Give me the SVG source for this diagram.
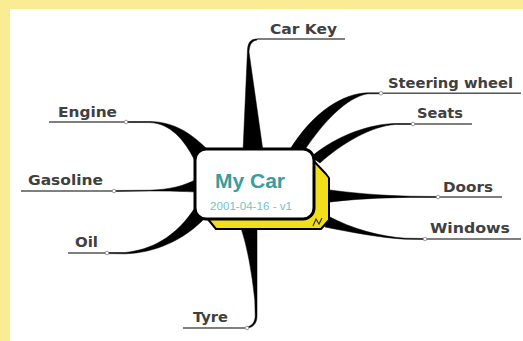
<svg xmlns="http://www.w3.org/2000/svg" width="523" height="341" viewBox="0 0 523 341">
<style>
.lbl{font-family:"DejaVu Sans","Liberation Sans",sans-serif;font-weight:bold;font-size:14px;fill:#404040}
.ul{stroke:#555;stroke-width:1.5;fill:none}
.br{fill:#000;stroke:#000;stroke-width:0.5;stroke-linejoin:round}
.dot{fill:#fff;stroke:#888;stroke-width:0.8}
</style>
<rect x="0" y="0" width="523" height="341" fill="#fff"/>
<rect x="0" y="0" width="523" height="9" fill="#f9ec92"/>
<rect x="0" y="0" width="10" height="341" fill="#f9ec92"/>

<g id="connectors">
  <path class="br" d="M257,39 C251,39 248,42 247.5,50 L243,151 L263,151 L249,52 C249.5,44 252,41 257,40 Z"/>
  <path class="br" d="M381,92.8 L368,92.8 C345,93 314,110 289,151 L304,151 C322,124 346,97 368,93.8 L381,93.8 Z"/>
  <path class="br" d="M413,123.5 L395,123.5 C372,124 338,134 311,157 L320,163 C342,143 372,126 395,124.5 L413,124.5 Z"/>
  <path class="br" d="M438,196.5 L410,196.2 C380,195.5 352,193 326,189.5 L326,202.5 C352,199 380,197.8 410,197.4 L438,197.5 Z"/>
  <path class="br" d="M425,238.5 L405,238.2 C380,236.5 352,229 328,216 L325,227 C350,232 380,237.8 405,239.2 L425,239.5 Z"/>
  <path class="br" d="M126,121.5 L150,121.5 C175,122 192,134 209,151 L195,161 C184,139 170,123.5 150,122.6 L126,122.5 Z"/>
  <path class="br" d="M114,190.5 L150,190.2 C170,189.5 184,186 197,179 L197,192 C184,191.5 170,191 150,191 L114,191.5 Z"/>
  <path class="br" d="M107,252.5 L125,252.5 C150,250 176,238 196,206 L205,218 C184,240 155,253 125,253.8 L107,253.6 Z"/>
  <path class="br" d="M247,328 C252,328 257,324 257,316 L257,228 L241,228 Q250,255 254.8,300 L255.2,316 C255,322 252,326 247,327 Z"/>
</g>

<g id="my-car">
  <path d="M309,156 L326,174 L329,178 L329,220 L321,229 L216,229 L207,218 Z" fill="#f2df1c" stroke="#000" stroke-width="2" stroke-linejoin="round"/>
  <path d="M313,226 L316,219 L319,224 L322,218" fill="none" stroke="#333" stroke-width="1.2"/>
  <rect x="195" y="149" width="119" height="70" rx="11" fill="#fff" stroke="#000" stroke-width="3"/>
  <text x="250" y="188" text-anchor="middle" font-family="Liberation Sans, Arial, sans-serif" font-weight="bold" font-size="20" fill="#3a9d9d" textLength="70" lengthAdjust="spacingAndGlyphs">My Car</text>
  <text x="251" y="210" text-anchor="middle" font-family="Liberation Sans, Arial, sans-serif" font-size="10.5" fill="#74c4c4" textLength="82" lengthAdjust="spacingAndGlyphs">2001-04-16 - v1</text>
</g>

<g id="car-key">
  <line class="ul" x1="257" y1="39" x2="345" y2="39"/>
  <text class="lbl" x="270" y="34" textLength="67" lengthAdjust="spacingAndGlyphs">Car Key</text>
</g>
<g id="steering-wheel">
  <line class="ul" x1="381" y1="93.3" x2="521" y2="93.3"/>
  <circle class="dot" cx="381" cy="93.3" r="1.8"/>
  <text class="lbl" x="388" y="88" textLength="125" lengthAdjust="spacingAndGlyphs">Steering wheel</text>
</g>
<g id="seats">
  <line class="ul" x1="413" y1="124" x2="472" y2="124"/>
  <circle class="dot" cx="413" cy="124" r="1.8"/>
  <text class="lbl" x="417" y="118" textLength="46" lengthAdjust="spacingAndGlyphs">Seats</text>
</g>
<g id="doors">
  <line class="ul" x1="438" y1="197" x2="502" y2="197"/>
  <circle class="dot" cx="438" cy="197" r="1.8"/>
  <text class="lbl" x="443" y="192" textLength="50" lengthAdjust="spacingAndGlyphs">Doors</text>
</g>
<g id="windows">
  <line class="ul" x1="425" y1="239" x2="521" y2="239"/>
  <circle class="dot" cx="425" cy="239" r="1.8"/>
  <text class="lbl" x="430" y="233" textLength="80" lengthAdjust="spacingAndGlyphs">Windows</text>
</g>
<g id="engine">
  <line class="ul" x1="49" y1="122" x2="126" y2="122"/>
  <circle class="dot" cx="126" cy="122" r="1.8"/>
  <text class="lbl" x="58" y="117" textLength="59" lengthAdjust="spacingAndGlyphs">Engine</text>
</g>
<g id="gasoline">
  <line class="ul" x1="21" y1="191" x2="114" y2="191"/>
  <circle class="dot" cx="114" cy="191" r="1.8"/>
  <text class="lbl" x="28" y="185" textLength="75" lengthAdjust="spacingAndGlyphs">Gasoline</text>
</g>
<g id="oil">
  <line class="ul" x1="68" y1="253" x2="107" y2="253"/>
  <circle class="dot" cx="107" cy="253" r="1.8"/>
  <text class="lbl" x="75" y="247" textLength="23" lengthAdjust="spacingAndGlyphs">Oil</text>
</g>
<g id="tyre">
  <line class="ul" x1="183" y1="328" x2="247" y2="328"/>
  <circle class="dot" cx="247" cy="328" r="1.8"/>
  <text class="lbl" x="193" y="322" textLength="35" lengthAdjust="spacingAndGlyphs">Tyre</text>
</g>
</svg>
